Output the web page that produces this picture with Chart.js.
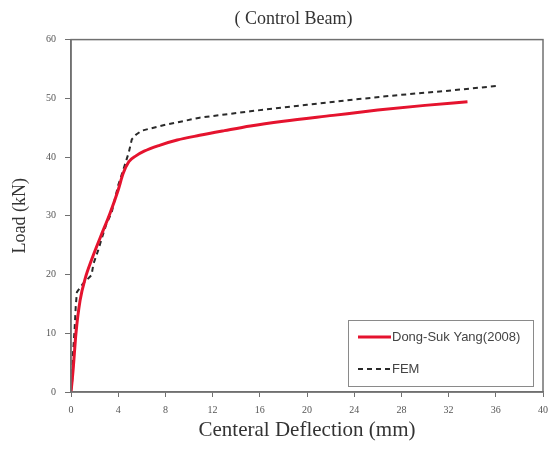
<!DOCTYPE html>
<html>
<head>
<meta charset="utf-8">
<script src="https://cdn.jsdelivr.net/npm/chart.js@4.4.1/dist/chart.umd.min.js"></script>
<style>
  body { margin: 0; background: #fff; }
</style>
</head>
<body>
<canvas id="chart" width="552" height="452"></canvas>
<script>
// test curve, Dong-Suk Yang (2008)
var testX = [0, 0.1, 0.2, 0.42, 0.77, 1.2, 1.8, 2.5, 3.3, 4.0, 4.4, 4.9, 5.5, 6.2, 7.5, 9, 10.9, 13, 15.2, 18, 22.2, 26, 30, 33.6];
var testY = [0, 2, 4.3, 10, 15.6, 19.3, 22.8, 26.4, 30.4, 34.4, 37.1, 39.2, 40.2, 41.0, 42, 42.9, 43.7, 44.5, 45.3, 46.1, 47.1, 48, 48.8, 49.4];

// FEM curve
var femX = [0, 0.1, 0.15, 0.3, 0.4, 0.5, 1.0, 1.74, 1.9, 2.3, 2.6, 3.0, 3.45, 4.0, 4.6, 4.9, 5.15, 5.5, 6.0, 8.0, 10.9, 15.2, 20, 24, 28, 32, 36];
var femY = [0, 2, 6, 10.5, 14.5, 17, 18.4, 19.9, 21.8, 24.1, 26.1, 28.6, 30.6, 35.2, 38.9, 40.8, 43.0, 43.8, 44.5, 45.5, 46.7, 47.8, 48.9, 49.8, 50.6, 51.3, 52.1];

var seriesNames = ['Dong-Suk Yang(2008)', 'FEM'];
var xTicks = [0, 40, 4];   // min, max, step
var yTicks = [0, 60, 10];

var toPoints = function (xs, ys) {
  var pts = [];
  for (var i = 0; i < xs.length; i++) {
    pts.push({ x: xs[i], y: ys[i] });
  }
  return pts;
};

var serif = '"Liberation Serif", "DejaVu Serif", serif';
var frameColor = '#707070';

// box around the plot area (top and right edges too)
var framePlugin = {
  id: 'frame',
  afterLayout: function (chart) {
    // the title sits a bit right of the page centre
    if (chart.titleBlock) chart.titleBlock.left += 44;
  },
  afterDatasetsDraw: function (chart) {
    var a = chart.chartArea;
    var ctx = chart.ctx;
    ctx.save();
    ctx.strokeStyle = frameColor;
    ctx.lineWidth = 1.5;
    ctx.strokeRect(a.left, a.top, a.right - a.left, a.bottom - a.top);
    ctx.restore();
  }
};

// legend drawn inside the plot, lower right
var boxLegend = {
  id: 'boxLegend',
  afterDraw: function (chart) {
    var ctx = chart.ctx;
    var a = chart.chartArea;
    var x0 = a.right - 195, y0 = a.bottom - 72, w = 185, h = 66;
    ctx.save();
    ctx.fillStyle = '#fff';
    ctx.fillRect(x0, y0, w, h);
    ctx.strokeStyle = '#8a8a8a';
    ctx.lineWidth = 1;
    ctx.strokeRect(x0 + 0.5, y0 + 0.5, w, h);
    ctx.font = '13px "Liberation Sans", Arial, sans-serif';
    ctx.textBaseline = 'middle';
    chart.data.datasets.forEach(function (ds, i) {
      var yy = y0 + 17 + i * 32;
      ctx.strokeStyle = ds.borderColor;
      ctx.lineWidth = ds.borderWidth;
      ctx.setLineDash(ds.borderDash || []);
      ctx.beginPath();
      ctx.moveTo(x0 + 10, yy);
      ctx.lineTo(x0 + 43, yy);
      ctx.stroke();
      ctx.setLineDash([]);
      ctx.fillStyle = '#444';
      ctx.fillText(ds.label, x0 + 44, yy);
    });
    ctx.restore();
  }
};

var config = {
  type: 'scatter',
  data: {
    datasets: [{
      label: seriesNames[0],
      data: toPoints(testX, testY),
      showLine: true,
      borderColor: '#e5132e',
      backgroundColor: '#e5132e',
      borderWidth: 3,
      pointRadius: 0,
      cubicInterpolationMode: 'monotone'
    }, {
      label: seriesNames[1],
      data: toPoints(femX, femY),
      showLine: true,
      borderColor: '#2a2a2a',
      backgroundColor: '#2a2a2a',
      borderWidth: 2,
      borderDash: [5, 4],
      pointRadius: 0,
      tension: 0
    }]
  },
  options: {
    responsive: false,
    animation: false,
    devicePixelRatio: 1,
    layout: { padding: { left: 0, right: 9, top: 0, bottom: 0 } },
    plugins: {
      legend: { display: false },
      tooltip: { enabled: false },
      title: {
        display: true,
        text: '( Control Beam)',
        color: '#333',
        font: { family: serif, size: 18, weight: 'normal' },
        padding: { top: 8, bottom: 10 }
      }
    },
    scales: {
      x: {
        type: 'linear',
        min: xTicks[0],
        max: xTicks[1],
        afterFit: function (s) {
          s.height = 60;
          s.paddingLeft = 0;
          s.paddingRight = 0;
        },
        ticks: {
          stepSize: xTicks[2],
          color: '#555',
          padding: 7,
          font: { family: serif, size: 10 }
        },
        grid: { drawOnChartArea: false, tickLength: 5, color: frameColor },
        border: { color: frameColor, width: 1.5 },
        title: {
          display: true,
          text: 'Centeral Deflection (mm)',
          color: '#333',
          font: { family: serif, size: 21 },
          padding: { top: 0, bottom: 9 }
        }
      },
      y: {
        type: 'linear',
        min: yTicks[0],
        max: yTicks[1],
        afterFit: function (s) { s.width = 71; },
        ticks: {
          stepSize: yTicks[2],
          color: '#555',
          padding: 9,
          font: { family: serif, size: 10 }
        },
        grid: { drawOnChartArea: false, tickLength: 6, color: frameColor },
        border: { color: frameColor, width: 1.5 },
        title: {
          display: true,
          text: 'Load (kN)',
          color: '#333',
          font: { family: serif, size: 18 },
          padding: { top: 9, bottom: 0 }
        }
      }
    }
  },
  plugins: [framePlugin, boxLegend]
};

var ctx = document.getElementById('chart').getContext('2d');
var chart = new Chart(ctx, config);
</script>
</body>
</html>
